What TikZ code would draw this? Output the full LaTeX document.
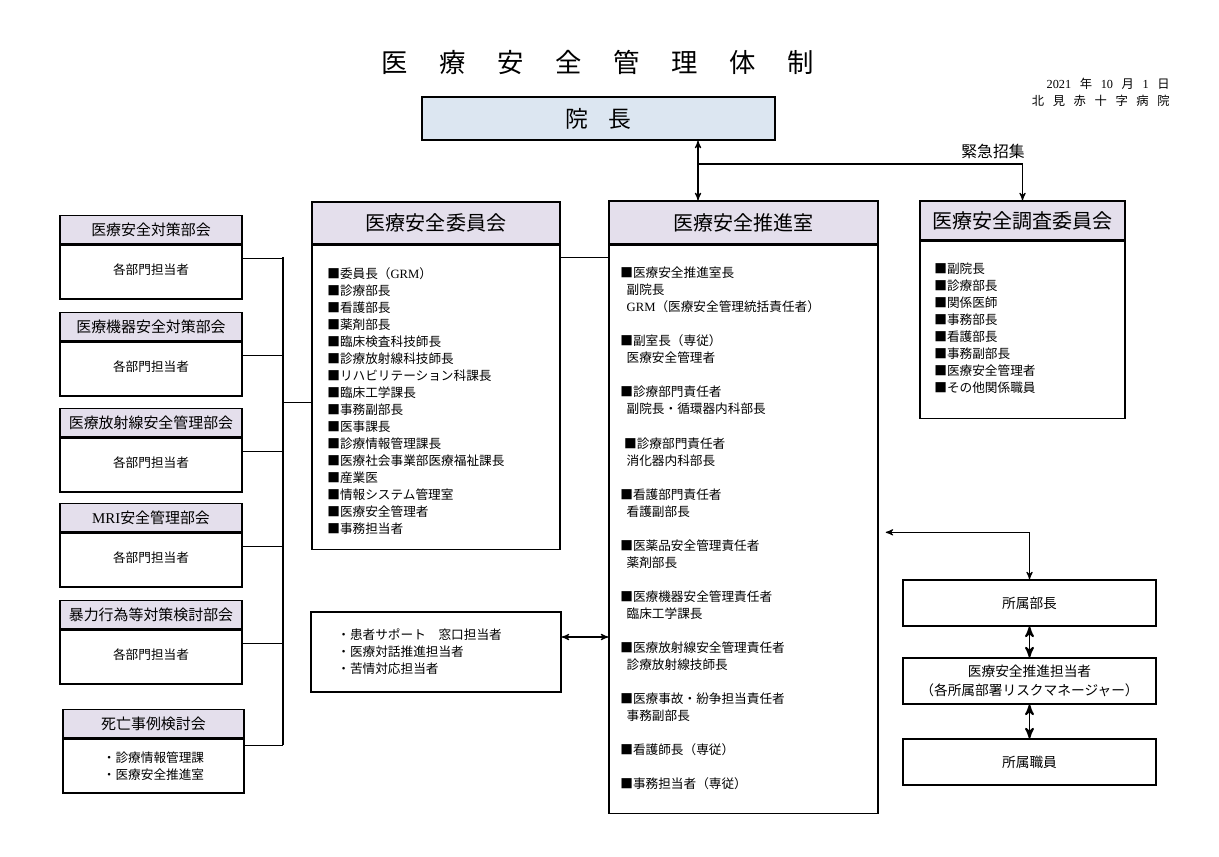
\documentclass[tikz,border=0pt]{standalone}
\usepackage{fontspec}
\setmainfont{Noto Sans CJK JP}
\newfontfamily\latinfont{Liberation Serif}
\usepackage{tikz}
\usetikzlibrary{arrows,positioning,calc}
\definecolor{hdrlav}{RGB}{228,223,236}
\definecolor{chiefblue}{RGB}{220,230,241}
\newcommand{\lat}[1]{{\latinfont #1}}
\newcommand{\wide}[1]{\spaceskip=#1em\relax}
\newcommand{\listfont}{\fontsize{7.2}{9.7}\selectfont}
\newcommand{\bighdr}{\fontsize{11.4}{13}\selectfont}
\newcommand{\subhdrfont}{\fontsize{8.5}{10}\selectfont}

\begin{document}
\begin{tikzpicture}[x=0.02cm,y=-0.02cm,>=stealth',
    box/.style={draw,line width=0.8pt,inner sep=0pt},
    itemlist/.style={inner sep=0pt,align=left,anchor=west,font=\listfont},
    wire/.style={line width=0.6pt}]
    \useasboundingbox (0,0) rectangle (1219,857);

    % title and date
    \node[font=\fontsize{15}{18}\selectfont] (title) at (598,62) {\wide{1.2}医 療 安 全 管 理 体 制};
    \node[anchor=east,inner sep=0pt,font=\fontsize{7}{8}\selectfont] (date) at (1170,84) {\wide{0.7}\lat{2021} 年 \lat{10} 月 \lat{1} 日};
    \node[anchor=east,inner sep=0pt,font=\fontsize{7}{8}\selectfont] (hosp) at (1170,101) {\wide{0.7}北 見 赤 十 字 病 院};

    % director
    \node[box,fill=chiefblue,minimum width=7.06cm,minimum height=0.86cm,font=\fontsize{13}{15}\selectfont] (chief) at (598.5,118.5) {\wide{0.85}院 長};

    % safety committee
    \node[box,fill=hdrlav,minimum width=4.96cm,minimum height=0.84cm,font=\bighdr] (cmtH) at (436,223) {医療安全委員会};
    \node[box,minimum width=4.96cm,minimum height=6.08cm,anchor=north] (cmtB) at (cmtH.south) {};
    \node[itemlist] (cmtL) at (327,401) {■委員長（\lat{GRM}）\\■診療部長\\■看護部長\\■薬剤部長\\■臨床検査科技師長\\■診療放射線科技師長\\■リハビリテーション科課長\\■臨床工学課長\\■事務副部長\\■医事課長\\■診療情報管理課長\\■医療社会事業部医療福祉課長\\■産業医\\■情報システム管理室\\■医療安全管理者\\■事務担当者};

    % promotion office
    \node[box,fill=hdrlav,minimum width=5.38cm,minimum height=0.86cm,font=\bighdr] (roomH) at (743.5,222.5) {医療安全推進室};
    \node[box,minimum width=5.38cm,minimum height=11.36cm,anchor=north] (roomB) at (roomH.south) {};
    \node[itemlist] (roomL) at (620,528.5) {■医療安全推進室長\\
        \hspace*{0.5em}副院長\\
        \hspace*{0.5em}\lat{GRM}（医療安全管理統括責任者）\\[9.7pt]
        ■副室長（専従）\\
        \hspace*{0.5em}医療安全管理者\\[9.7pt]
        ■診療部門責任者\\
        \hspace*{0.5em}副院長・循環器内科部長\\[9.7pt]
        \hspace*{0.3em}■診療部門責任者\\
        \hspace*{0.5em}消化器内科部長\\[9.7pt]
        ■看護部門責任者\\
        \hspace*{0.5em}看護副部長\\[9.7pt]
        ■医薬品安全管理責任者\\
        \hspace*{0.5em}薬剤部長\\[9.7pt]
        ■医療機器安全管理責任者\\
        \hspace*{0.5em}臨床工学課長\\[9.7pt]
        ■医療放射線安全管理責任者\\
        \hspace*{0.5em}診療放射線技師長\\[9.7pt]
        ■医療事故・紛争担当責任者\\
        \hspace*{0.5em}事務副部長\\[9.7pt]
        ■看護師長（専従）\\[9.7pt]
        ■事務担当者（専従）};

    % investigation committee
    \node[box,fill=hdrlav,minimum width=4.1cm,minimum height=0.78cm,font=\bighdr] (invH) at (1022.5,220.5) {医療安全調査委員会};
    \node[box,minimum width=4.1cm,minimum height=3.54cm,anchor=north] (invB) at (invH.south) {};
    \node[itemlist] (invL) at (934,328.5) {■副院長\\■診療部長\\■関係医師\\■事務部長\\■看護部長\\■事務副部長\\■医療安全管理者\\■その他関係職員};

    % subcommittees on the left
    \coordinate (bus) at (283,257);
    \foreach \n/\t/\y in {1/医療安全対策部会/215, 2/医療機器安全対策部会/312, 3/医療放射線安全管理部会/408, 4/\lat{MRI}安全管理部会/503, 5/暴力行為等対策検討部会/600} {
        \node[box,fill=hdrlav,minimum width=3.64cm,minimum height=0.56cm,anchor=north,font=\subhdrfont] (subH\n) at (151,\y) {\t};
        \node[box,minimum width=3.64cm,minimum height=1.08cm,anchor=north] (subB\n) at (subH\n.south) {};
        \node[font=\listfont] (subT\n) at ($(subB\n.north)+(0,25)$) {各部門担当者};
        \draw[wire] ($(subB\n.north east)+(0,14)$) coordinate (j\n) -- (j\n -| bus);
    }
    \node[box,fill=hdrlav,minimum width=3.62cm,minimum height=0.56cm,anchor=north,font=\subhdrfont] (deathH) at (153.5,709) {死亡事例検討会};
    \node[box,minimum width=3.62cm,minimum height=1.08cm,anchor=north] (deathB) at (deathH.south) {};
    \node[itemlist,anchor=center] (deathT) at (deathB.center) {・診療情報管理課\\・医療安全推進室};
    \draw[wire] ($(deathB.north east)+(0,7)$) coordinate (j6) -- (j6 -| bus);
    \draw[wire] (bus) -- (bus |- j6);
    \draw[wire] ($(cmtB.west)+(0,5)$) coordinate (jc) -- (jc -| bus);
    \draw[wire] ($(cmtB.north east)+(0,13)$) coordinate (jr) -- (jr -| roomB.west);

    % patient support
    \node[box,minimum width=5cm,minimum height=1.6cm] (patient) at (436,652) {};
    \node[itemlist] (patientL) at (337,652) {・患者サポート　窓口担当者\\・医療対話推進担当者\\・苦情対応担当者};
    \draw[wire,<->] ($(patient.east)+(0,-15)$) coordinate (jp) -- (jp -| roomB.west);

    % director links
    \coordinate (tap) at (698,164);
    \draw[wire,<->] (chief.south -| tap) -- (roomH.north -| tap);
    \draw[line width=1.7pt] (tap) -- (tap -| invH.north);
    \draw[wire,->] (tap -| invH.north) -- (invH.north);
    \node[font=\fontsize{9}{11}\selectfont] (urgent) at (993,151) {緊急招集};

    % departments
    \node[box,minimum width=5.06cm,minimum height=0.92cm,font=\fontsize{7.8}{10}\selectfont] (bucho) at (1029.5,603) {所属部長};
    \node[box,minimum width=5.06cm,minimum height=0.92cm,align=center,font=\fontsize{7.8}{11}\selectfont] (tanto) at (1029.5,681) {医療安全推進担当者\\（各所属部署リスクマネージャー）};
    \node[box,minimum width=5.06cm,minimum height=0.92cm,font=\fontsize{7.8}{10}\selectfont] (shokuin) at (1029.5,762) {所属職員};
    \draw[wire,<->,shorten <=4pt] ($(roomB.east)+(0,3)$) -| (bucho.north);
    \draw[<->,line width=1.1pt] (bucho) -- (tanto);
    \draw[<->,line width=1.1pt] (tanto) -- (shokuin);
\end{tikzpicture}
\end{document}
